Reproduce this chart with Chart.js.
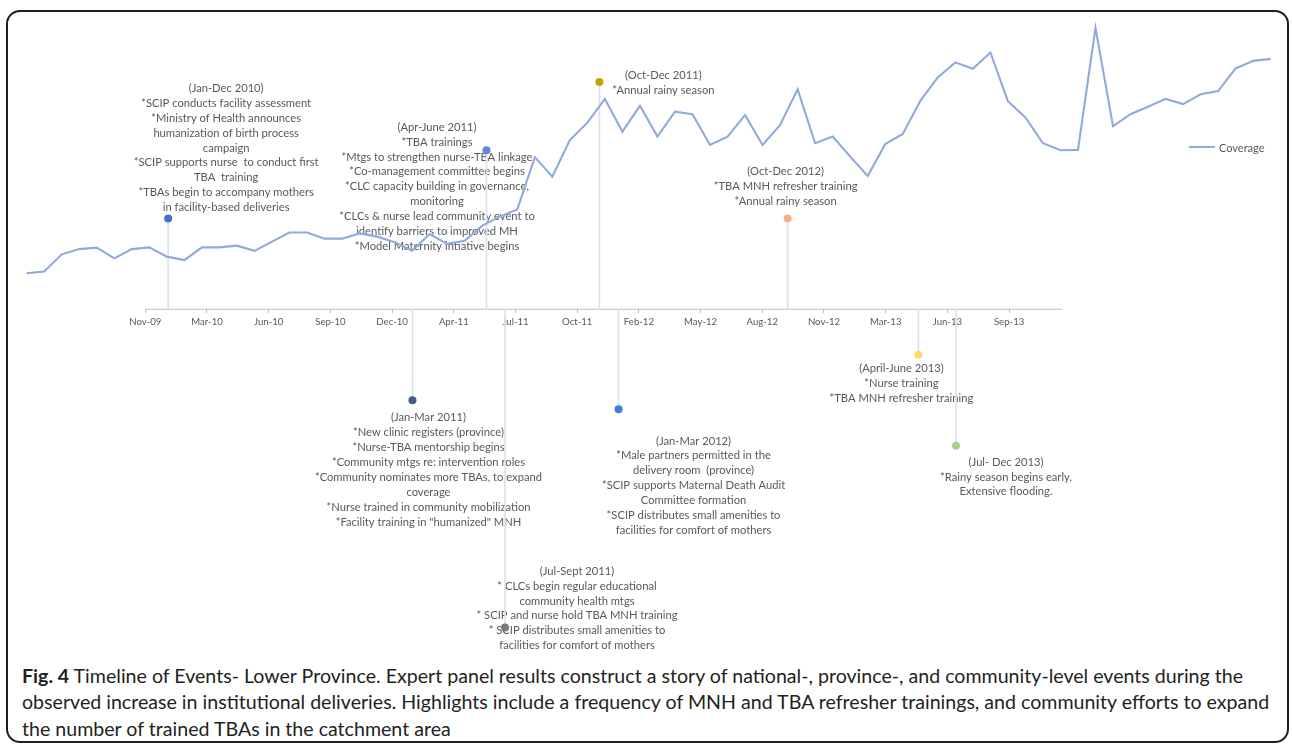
<!DOCTYPE html>
<html><head><meta charset="utf-8">
<script src="https://cdn.jsdelivr.net/npm/chart.js@4.4.1/dist/chart.umd.min.js"></script>
<style>
html,body{margin:0;padding:0;background:#fff;width:1292px;height:748px;overflow:hidden}
#frame{position:absolute;left:6px;top:10px;width:1283px;height:733px;border:2px solid #1e1e1e;border-radius:14px;box-sizing:border-box}
#wrap{position:absolute;left:0;top:0;width:1292px;height:660px}
#legend{position:absolute;left:1189px;top:139px;font:11px Lato,sans-serif;color:#595959;display:flex;align-items:center;height:16px}
#legend i{display:inline-block;width:26px;height:2px;margin-right:4px}
#caption{position:absolute;left:22px;top:662.75px;font-family:Lato,sans-serif;font-size:19.6px;line-height:26.5px;color:#231f20;white-space:nowrap}
#caption b{font-weight:700}
</style></head><body>
<div id="frame"></div>
<div id="wrap"><canvas id="c"></canvas></div>
<div id="legend"></div>
<div id="caption"><b>Fig. 4</b> Timeline of Events- Lower Province. Expert panel results construct a story of national-, province-, and community-level events during the<br>observed increase in institutional deliveries. Highlights include a frequency of MNH and TBA refresher trainings, and community efforts to expand<br>the number of trained TBAs in the catchment area</div>
<script>
// ---------- DATA ----------
const months = ['Jan-08','Feb-08','Mar-08','Apr-08','May-08','Jun-08','Jul-08','Aug-08','Sep-08','Oct-08','Nov-08','Dec-08',
  'Jan-09','Feb-09','Mar-09','Apr-09','May-09','Jun-09','Jul-09','Aug-09','Sep-09','Oct-09','Nov-09','Dec-09',
  'Jan-10','Feb-10','Mar-10','Apr-10','May-10','Jun-10','Jul-10','Aug-10','Sep-10','Oct-10','Nov-10','Dec-10',
  'Jan-11','Feb-11','Mar-11','Apr-11','May-11','Jun-11','Jul-11','Aug-11','Sep-11','Oct-11','Nov-11','Dec-11',
  'Jan-12','Feb-12','Mar-12','Apr-12','May-12','Jun-12','Jul-12','Aug-12','Sep-12','Oct-12','Nov-12','Dec-12',
  'Jan-13','Feb-13','Mar-13','Apr-13','May-13','Jun-13','Jul-13','Aug-13','Sep-13','Oct-13','Nov-13','Dec-13'];
const coverage = [12.7,13.3,19.2,21.0,21.5,17.8,21.0,21.6,18.4,17.2,21.6,21.6,
  22.2,20.4,23.6,26.7,26.7,24.6,24.6,26.4,25.3,23.4,20.4,26.2,
  22.8,23.9,29.1,32.2,34.7,52.7,46.0,58.6,64.6,72.8,61.5,70.4,
  59.8,68.4,67.5,56.9,59.8,67.2,56.9,63.8,76.1,57.5,59.8,52.9,
  46.2,57.2,60.7,72.1,80.2,85.4,83.2,88.8,72.0,66.4,57.5,55.1,
  55.2,97.3,63.4,67.5,70.1,72.8,71.0,74.4,75.5,83.3,85.9,86.6];

const timelineStart = '2009-11-25';
const timelineEnd = '2013-12-21';
const tickDates = ['2009-11-25','2010-03-05','2010-06-13','2010-09-21','2010-12-30','2011-04-09','2011-07-18','2011-10-26',
  '2012-02-03','2012-05-13','2012-08-21','2012-11-29','2013-03-09','2013-06-17','2013-09-25'];
const tickLabels = ['Nov-09','Mar-10','Jun-10','Sep-10','Dec-10','Apr-11','Jul-11','Oct-11','Feb-12','May-12','Aug-12','Nov-12','Mar-13','Jun-13','Sep-13'];

const eventDates = ['2010-01-01','2011-02-01','2011-06-01','2011-07-01','2011-12-01','2012-01-01','2012-10-01','2013-05-01','2013-07-01'];
const eventHeights = [2, -2, 3.5, -7, 5, -2.2, 2, -1, -3];
const eventTexts = [
  ['(Jan-Dec 2010)','*SCIP conducts facility assessment','*Ministry of Health announces','humanization of birth process','campaign','*SCIP supports nurse  to conduct first','TBA  training','*TBAs begin to accompany mothers','in facility-based deliveries'],
  ['(Jan-Mar 2011)','*New clinic registers (province)','*Nurse-TBA mentorship begins','*Community mtgs re: intervention roles','*Community nominates more TBAs, to expand','coverage','*Nurse trained in community mobilization','*Facility training in "humanized" MNH'],
  ['(Apr-June 2011)','*TBA trainings','*Mtgs to strengthen nurse-TBA linkage','*Co-management committee begins','*CLC capacity building in governance,','monitoring','*CLCs & nurse lead community event to','identify barriers to improved MH','*Model Maternity intiative begins'],
  ['(Jul-Sept 2011)','* CLCs begin regular educational','community health mtgs','* SCIP and nurse hold TBA MNH training','* SCIP distributes small amenities to','facilities for comfort of mothers'],
  ['(Oct-Dec 2011)','*Annual rainy season'],
  ['(Jan-Mar 2012)','*Male partners permitted in the','delivery room  (province)','*SCIP supports Maternal Death Audit','Committee formation','*SCIP distributes small amenities to','facilities for comfort of mothers'],
  ['(Oct-Dec 2012)','*TBA MNH refresher training','*Annual rainy season'],
  ['(April-June 2013)','*Nurse training','*TBA MNH refresher training'],
  ['(Jul- Dec 2013)','*Rainy season begins early.','Extensive flooding.']
];

// ---------- STYLE / LAYOUT ----------
const eventColors = ['#4472C4','#485B84','#5A8AD6','#7A7A7A','#C9A20A','#3F7FD4','#F4B183','#FFD966','#A9D18E'];
const labelOffsets = [[58,-130],[16,17.6],[-49.5,-23],[72,-56.3],[64,-7],[75,31.7],[-2,-46.6],[-17,14],[50,16.4]];
const LINE_H = 14.88;
const TEXT_FONT = '11.2px Lato';
const W = 1292, H = 660;
const AREA = {left: 26.7, right: 1270.7, top: 20, bottom: 650};
const COV_ZERO_PX = 310, COV_PX_PER_UNIT = 2.9;
const TL_ZERO_PX = 309.3, TL_PX_PER_UNIT = 45.45;
const TL_START_PX = 145.3, TL_PX_PER_DAY = 0.617;

const day = s => Date.UTC(+s.slice(0,4), +s.slice(5,7)-1, +s.slice(8,10)) / 86400000;
const startDay = day(timelineStart);

const eventLabelPlugin = {
  id: 'eventLabels',
  beforeDatasetsDraw(chart) {
    const ctx = chart.ctx, xs = chart.scales.xt, ys = chart.scales.yt;
    ctx.save();
    ctx.font = TEXT_FONT;
    ctx.fillStyle = '#595959';
    ctx.textAlign = 'center';
    ctx.textBaseline = 'middle';
    eventTexts.forEach((lines, i) => {
      const px = xs.getPixelForValue(day(eventDates[i]));
      const py = ys.getPixelForValue(eventHeights[i]);
      const [dx, dy] = labelOffsets[i];
      lines.forEach((t, k) => ctx.fillText(t, px + dx, py + dy + k * LINE_H));
    });
    ctx.restore();
  }
};

const ctx = document.getElementById('c');
const chart = new Chart(ctx, {
  type: 'line',
  data: {
    labels: months,
    datasets: [
      {
        type: 'scatter', label: 'Events', order: 0, xAxisID: 'xt', yAxisID: 'yt',
        data: eventDates.map((d, i) => ({x: day(d), y: eventHeights[i]})),
        pointRadius: 4, pointBackgroundColor: eventColors, pointBorderWidth: 0, showLine: false
      },
      {
        type: 'line', label: 'Coverage', order: 1, xAxisID: 'x', yAxisID: 'y',
        data: coverage, borderColor: '#8FAADC', borderWidth: 2.1, pointRadius: 0, tension: 0, fill: false
      },
      {
        type: 'bar', label: 'Stems', order: 2, xAxisID: 'xt', yAxisID: 'yt',
        data: eventDates.map((d, i) => ({x: day(d), y: [0, eventHeights[i]]})),
        backgroundColor: '#D9E1F2', borderWidth: 0, barThickness: 1, grouped: false
      },
      {
        type: 'line', label: 'Axis', order: 3, xAxisID: 'xt', yAxisID: 'yt',
        data: [{x: day(timelineStart), y: 0}, {x: day(timelineEnd), y: 0}],
        borderColor: '#BFBFBF', borderWidth: 1, pointRadius: 0
      }
    ]
  },
  options: {
    responsive: true, maintainAspectRatio: false, animation: false, events: [],
    layout: {padding: {left: AREA.left, right: W - AREA.right, top: AREA.top, bottom: H - AREA.bottom}},
    plugins: {legend: {display: false}, tooltip: {enabled: false}},
    scales: {
      x: {type: 'category', display: false, offset: false},
      y: {type: 'linear', display: false,
          max: (COV_ZERO_PX - AREA.top) / COV_PX_PER_UNIT,
          min: -(AREA.bottom - COV_ZERO_PX) / COV_PX_PER_UNIT},
      yt: {type: 'linear', display: false,
          max: (TL_ZERO_PX - AREA.top) / TL_PX_PER_UNIT,
          min: -(AREA.bottom - TL_ZERO_PX) / TL_PX_PER_UNIT},
      xt: {
        type: 'linear', position: {yt: 0}, offset: false,
        min: startDay - (TL_START_PX - AREA.left) / TL_PX_PER_DAY,
        max: startDay + (AREA.right - TL_START_PX) / TL_PX_PER_DAY,
        afterBuildTicks: s => { s.ticks = tickDates.map(d => ({value: day(d)})); },
        afterFit: s => { s.height = 0; },
        border: {display: false},
        grid: {offset: false, drawOnChartArea: false, drawTicks: true, tickLength: 4, color: '#BFBFBF'},
        ticks: {autoSkip: false, maxRotation: 0, padding: 3, color: '#595959', font: {family: 'Lato', size: 9.6},
          callback: (v, i) => tickLabels[i]}
      }
    }
  },
  plugins: [eventLabelPlugin]
});

// legend from the dataset
const lg = document.getElementById('legend');
const cov = chart.data.datasets[1];
lg.innerHTML = '<i style="background:' + cov.borderColor + '"></i>' + cov.label;
</script>
</body></html>
